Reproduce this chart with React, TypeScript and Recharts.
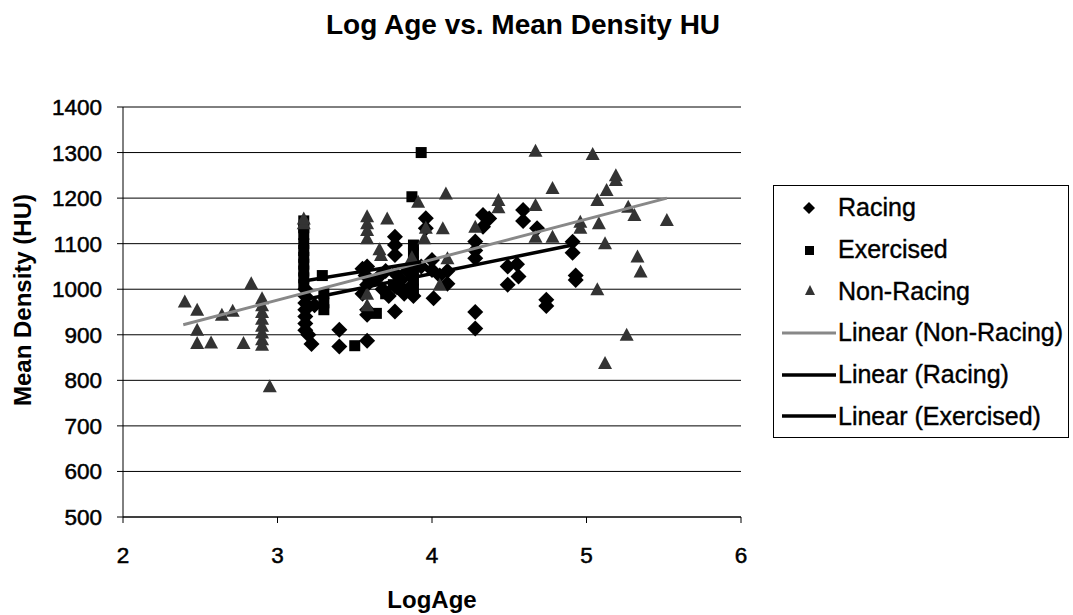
import { CartesianGrid, Scatter, ScatterChart, XAxis, YAxis } from "recharts";

const font = "'Liberation Sans', Arial, sans-serif";

// LogAge, Mean Density (HU)
const racing: [number, number][] = [
  [3.18, 1000], [3.18, 985], [3.18, 970], [3.18, 955], [3.18, 940], [3.18, 925], [3.18, 910],
  [3.2, 900], [3.22, 880], [3.24, 965], [3.4, 911], [3.4, 874], [3.58, 887],
  [3.55, 1045], [3.58, 1050], [3.57, 1030], [3.58, 1010], [3.55, 990], [3.58, 955], [3.58, 944],
  [3.65, 1025], [3.68, 1000], [3.7, 1040], [3.72, 985], [3.76, 1115], [3.76, 1097], [3.76, 1075],
  [3.76, 1035], [3.76, 1006], [3.76, 951], [3.8, 1020], [3.82, 990], [3.84, 1040], [3.86, 1005],
  [3.88, 985], [3.96, 1156], [3.96, 1134], [4.0, 1064], [4.0, 1042], [4.01, 980], [3.93, 1050],
  [4.05, 1030], [4.1, 1040], [4.1, 1012], [4.28, 1105], [4.28, 1085], [4.28, 1068], [4.28, 950],
  [4.28, 914], [4.33, 1163], [4.33, 1137], [4.37, 1155], [4.49, 1050], [4.55, 1055], [4.56, 1028],
  [4.49, 1010], [4.59, 1174], [4.59, 1150], [4.68, 1134], [4.74, 977], [4.74, 963],
  [4.91, 1104], [4.91, 1080], [4.93, 1030], [4.93, 1020],
];

const exercised: [number, number][] = [
  [3.17, 1150], [3.17, 1135], [3.17, 1120], [3.17, 1100], [3.17, 1085], [3.17, 1070],
  [3.17, 1055], [3.17, 1040], [3.17, 1025], [3.17, 1010], [3.29, 1030], [3.3, 990],
  [3.3, 970], [3.3, 955], [3.5, 876], [3.64, 947], [3.62, 1020], [3.7, 990], [3.75, 1010],
  [3.8, 1000], [3.85, 995], [3.87, 1203], [3.88, 1097], [3.88, 1080], [3.88, 1060],
  [3.88, 1040], [3.88, 1020], [3.88, 1000], [3.93, 1300],
];

const nonRacing: [number, number][] = [
  [2.4, 973], [2.48, 955], [2.48, 911], [2.48, 882], [2.57, 883], [2.64, 944], [2.71, 953],
  [2.78, 882], [2.83, 1013], [2.9, 980], [2.9, 965], [2.9, 950], [2.9, 935], [2.9, 920],
  [2.9, 905], [2.9, 890], [2.9, 878], [2.95, 787], [3.17, 1145], [3.17, 1155],
  [3.58, 1160], [3.58, 1145], [3.58, 1130], [3.58, 1112], [3.58, 990], [3.58, 965],
  [3.71, 1155], [3.66, 1088], [3.67, 1075], [3.87, 1070], [3.91, 1192], [3.96, 1135],
  [3.95, 1112], [4.07, 1134], [4.09, 1210], [4.1, 1068], [4.05, 1010], [4.28, 1137],
  [4.43, 1196], [4.43, 1180], [4.67, 1304], [4.67, 1185], [4.67, 1115], [4.78, 1222],
  [4.78, 1115], [4.96, 1148], [4.96, 1135], [5.04, 1297], [5.07, 1196], [5.08, 1145],
  [5.13, 1218], [5.19, 1240], [5.19, 1250], [5.07, 1000], [5.12, 1101], [5.12, 838],
  [5.26, 900], [5.27, 1181], [5.31, 1163], [5.33, 1072], [5.35, 1039], [5.52, 1152],
];

// trendline end points as drawn
const nonRacingTrend: [number, number][] = [[2.39, 922], [5.52, 1200]];
const racingTrend: [number, number][] = [[3.17, 977], [4.91, 1097]];
const exercisedTrend: [number, number][] = [[3.17, 1018], [3.93, 1060]];

const xTicks = [2, 3, 4, 5, 6];
const yTicks = [500, 600, 700, 800, 900, 1000, 1100, 1200, 1300, 1400];

const pts = (a: [number, number][]) => a.map(([x, y]) => ({ x, y }));

const Diamond = ({ cx, cy }: any) => (
  <polygon points={`${cx},${cy - 8} ${cx + 8},${cy} ${cx},${cy + 8} ${cx - 8},${cy}`} fill="#000" />
);
const Square = ({ cx, cy }: any) => <rect x={cx - 5.5} y={cy - 5.5} width={11} height={11} fill="#000" />;
const Triangle = ({ cx, cy }: any) => (
  <polygon points={`${cx},${cy - 7} ${cx + 7},${cy + 6} ${cx - 7},${cy + 6}`} fill="#333" />
);
const NoDot = () => <g />;

const legendItems = [
  { name: "Racing", icon: "diamond" },
  { name: "Exercised", icon: "square" },
  { name: "Non-Racing", icon: "triangle" },
  { name: "Linear (Non-Racing)", icon: "grayline" },
  { name: "Linear (Racing)", icon: "line" },
  { name: "Linear (Exercised)", icon: "line" },
];

function LegendIcon({ icon }: { icon: string }) {
  return (
    <svg width={54} height={20} style={{ display: "block" }}>
      {icon === "diamond" && <polygon points="27,4 33,10 27,16 21,10" fill="#000" />}
      {icon === "square" && <rect x={23} y={6} width={9} height={9} fill="#000" />}
      {icon === "triangle" && <polygon points="28,4 33,14 23,14" fill="#333" />}
      {icon === "grayline" && <line x1={0} x2={54} y1={10} y2={10} stroke="#888" strokeWidth={3} />}
      {icon === "line" && <line x1={0} x2={54} y1={10} y2={10} stroke="#000" strokeWidth={3.5} />}
    </svg>
  );
}

const tickStyle = { fill: "#000", stroke: "#000", strokeWidth: 0.5, fontSize: 22.5, fontFamily: font };

export default function App() {
  return (
    <div style={{ position: "absolute", left: 0, top: 0, width: 1073, height: 615, background: "#fff", fontFamily: font }}>
      <div
        style={{
          position: "absolute", left: 0, top: 11, width: 1046, textAlign: "center",
          fontSize: 28, lineHeight: "28px", fontWeight: "bold",
        }}
      >
        Log Age vs. Mean Density HU
      </div>

      <ScatterChart width={1073} height={615} margin={{ top: 107, right: 332, bottom: 0, left: 0 }}>
        <CartesianGrid vertical={false} stroke="#000" strokeWidth={1} />
        <XAxis
          type="number" dataKey="x" domain={[2, 6]} ticks={xTicks} height={98}
          axisLine={{ stroke: "#000" }} tickLine={{ stroke: "#000" }} tickSize={6} tickMargin={24}
          tick={tickStyle}
          label={{
            content: ({ viewBox }: any) => (
              <text x={viewBox.x + viewBox.width / 2} y={608} textAnchor="middle"
                fontSize={24} fontWeight="bold" fontFamily={font} fill="#000">LogAge</text>
            ),
          }}
        />
        <YAxis
          type="number" dataKey="y" domain={[500, 1400]} ticks={yTicks} width={123}
          axisLine={{ stroke: "#000" }} tickLine={{ stroke: "#000" }} tickSize={6} tickMargin={15}
          tick={tickStyle}
          label={{
            content: () => (
              <text x={31} y={300} transform="rotate(-90 31 300)" textAnchor="middle"
                fontSize={24} fontWeight="bold" fontFamily={font} fill="#000">Mean Density (HU)</text>
            ),
          }}
        />
        <Scatter name="Racing" data={pts(racing)} shape={Diamond} isAnimationActive={false} />
        <Scatter name="Exercised" data={pts(exercised)} shape={Square} isAnimationActive={false} />
        <Scatter name="Non-Racing" data={pts(nonRacing)} shape={Triangle} isAnimationActive={false} />
        <Scatter name="Linear (Non-Racing)" data={pts(nonRacingTrend)} shape={NoDot}
          line={{ stroke: "#888", strokeWidth: 3 }} isAnimationActive={false} />
        <Scatter name="Linear (Racing)" data={pts(racingTrend)} shape={NoDot}
          line={{ stroke: "#000", strokeWidth: 3.5 }} isAnimationActive={false} />
        <Scatter name="Linear (Exercised)" data={pts(exercisedTrend)} shape={NoDot}
          line={{ stroke: "#000", strokeWidth: 3.5 }} isAnimationActive={false} />
      </ScatterChart>

      <div
        style={{
          position: "absolute", left: 773, top: 185, width: 294, height: 250,
          border: "1px solid #000", boxSizing: "content-box", paddingTop: 1,
        }}
      >
        {legendItems.map((it) => (
          <div key={it.name} style={{ display: "flex", alignItems: "center", height: 41.7 }}>
            <div style={{ marginLeft: 8, width: 54 }}>
              <LegendIcon icon={it.icon} />
            </div>
            <span style={{ marginLeft: 2, fontSize: 25, whiteSpace: "nowrap", WebkitTextStroke: "0.4px #000" }}>
              {it.name}
            </span>
          </div>
        ))}
      </div>
    </div>
  );
}
